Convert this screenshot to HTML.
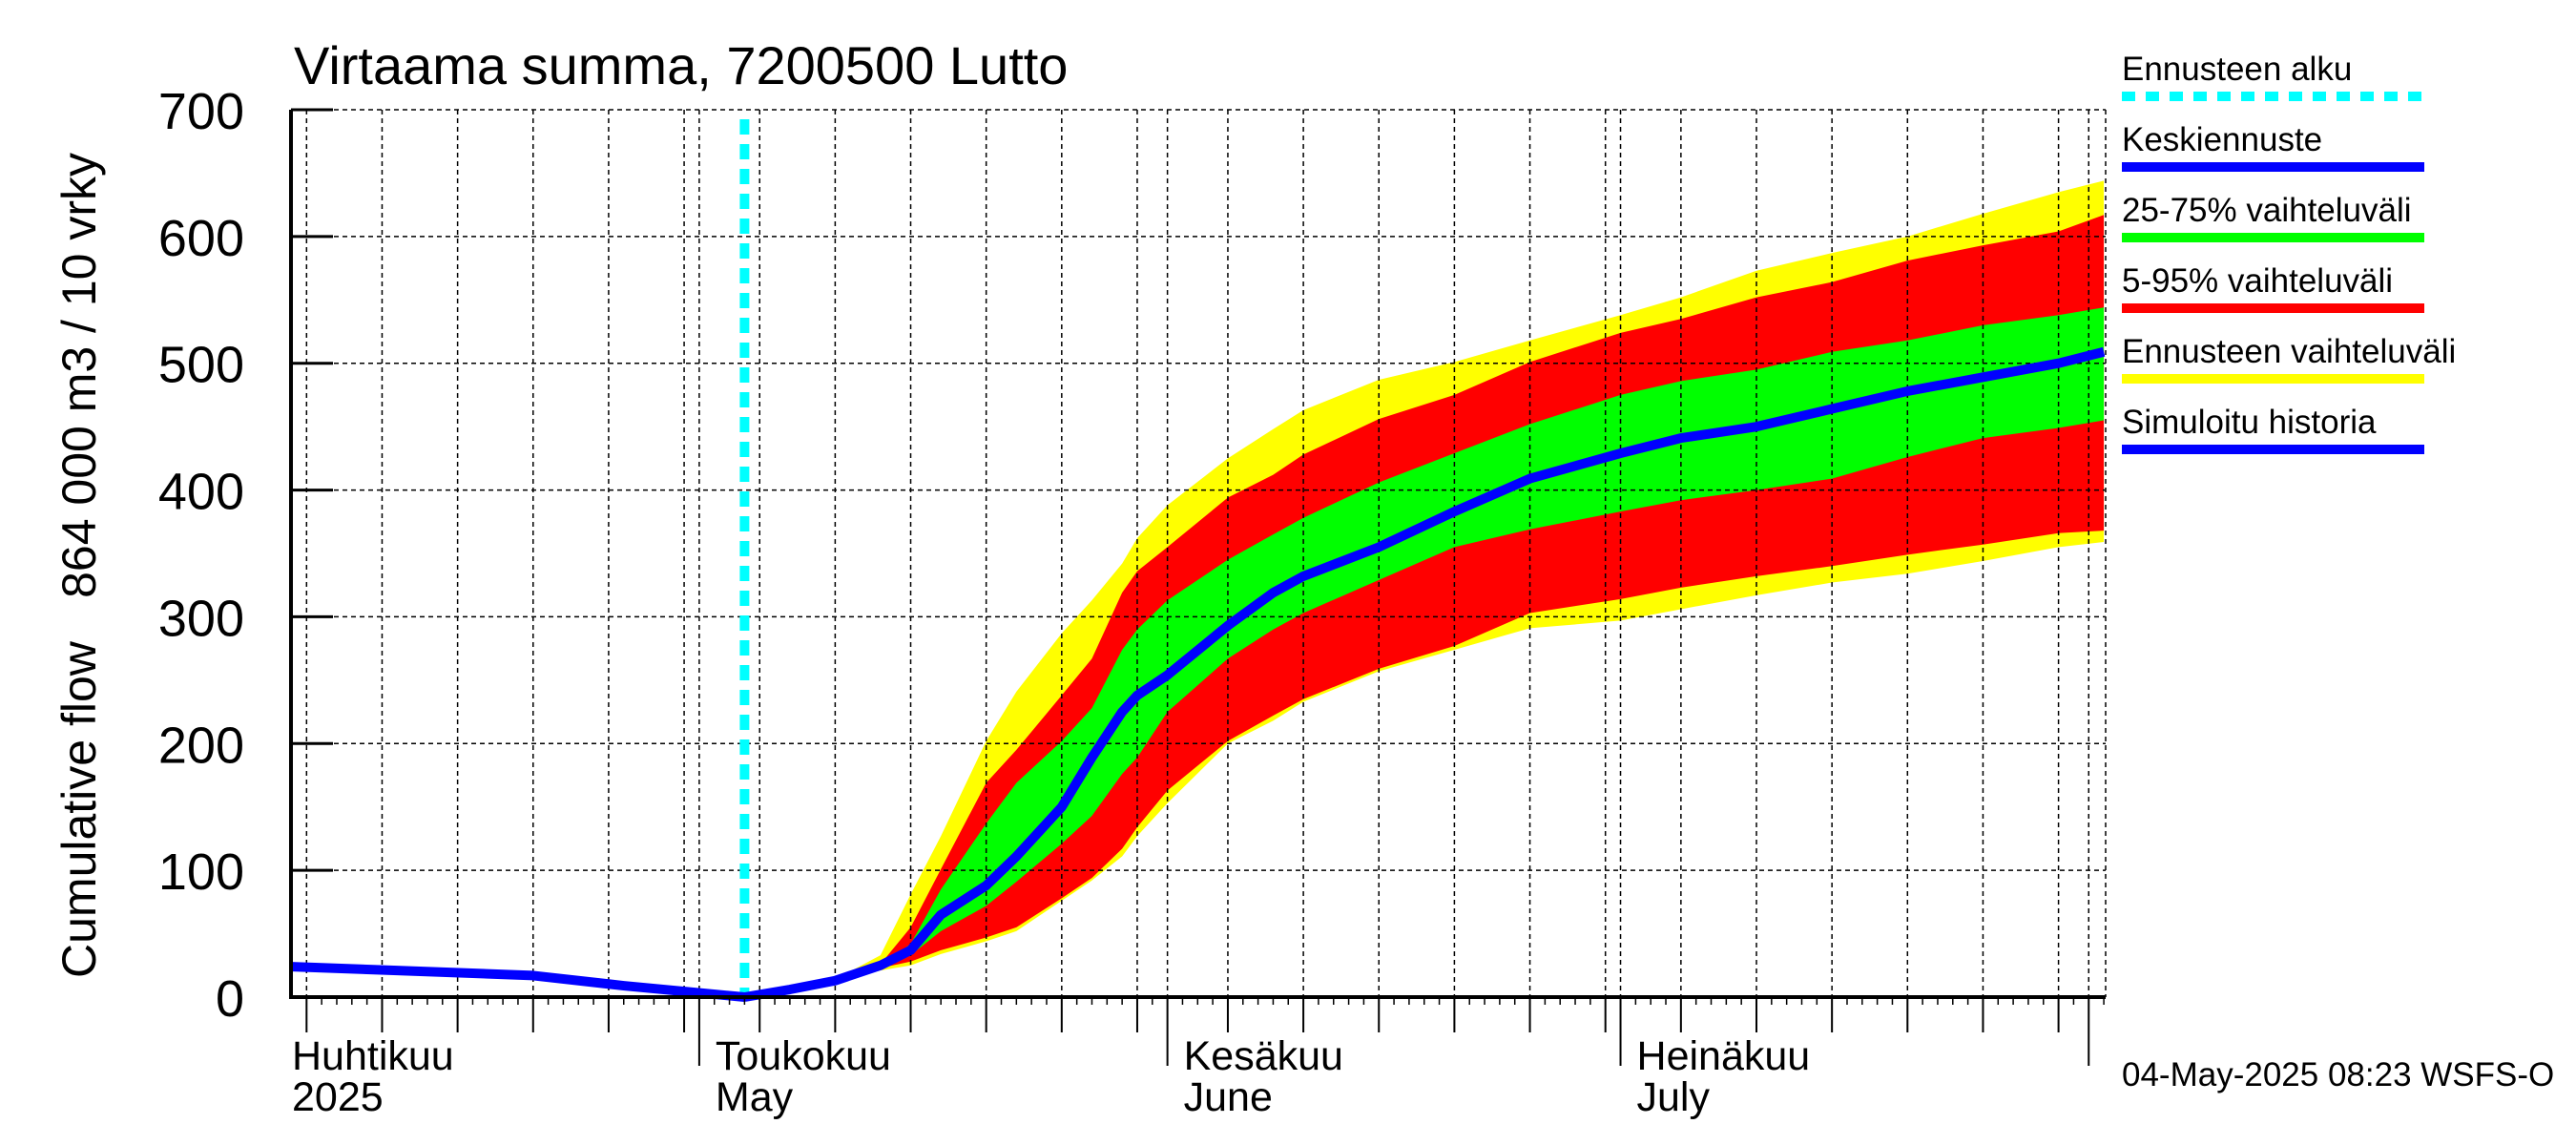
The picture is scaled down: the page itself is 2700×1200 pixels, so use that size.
<!DOCTYPE html>
<html><head><meta charset="utf-8"><style>
body{margin:0;background:#fff}
svg{display:block;font-family:"Liberation Sans",sans-serif}
</style></head><body>
<svg id="chart" width="2700" height="1200" viewBox="0 0 2700 1200" xmlns="http://www.w3.org/2000/svg">
<rect width="2700" height="1200" fill="#fff"/>
<g id="bands"></g>
<g id="grid"></g>
<g id="lines"></g>
<g id="axes"></g>
<text x="308" y="88" font-size="56">Virtaama summa, 7200500 Lutto</text>
<text transform="translate(100,1025) rotate(-90)" text-anchor="start" font-size="50">Cumulative flow</text>
<text transform="translate(100,160) rotate(-90)" text-anchor="end" font-size="50">864 000 m3 / 10 vrky</text>
<text x="2224" y="1138" font-size="35">04-May-2025 08:23 WSFS-O</text>
<g id="legend"></g>
</svg>
<script>
// data: day index = days since 1 April 2025
const histDays = [3, 10, 19, 25, 33];
const histVals = [24, 21, 17, 9, 0];
const fDays = [33, 36, 39, 42, 44, 46, 49, 51, 54, 56, 58, 59, 61, 65, 68, 70, 75, 80, 85, 91, 95, 100, 105, 110, 115, 120, 123];
const fMed = [0, 6, 13, 25, 37, 65, 88, 111, 150, 189, 225, 238, 254, 293, 319, 332, 355, 383, 409, 429, 441, 450, 464, 478, 489, 500, 509];
const fMax = [0, 6, 14, 33, 81, 127, 202, 241, 287, 313, 342, 362, 388, 425, 448, 463, 487, 501, 518, 538, 552, 573, 587, 600, 618, 635, 644];
const fP95 = [0, 6, 13, 26, 55, 101, 169, 195, 238, 267, 319, 336, 355, 394, 412, 428, 456, 475, 501, 524, 535, 552, 564, 581, 593, 604, 617];
const fP75 = [0, 6, 13, 25, 42, 85, 137, 169, 202, 228, 274, 290, 313, 345, 365, 378, 406, 429, 452, 475, 486, 495, 509, 518, 530, 538, 544];
const fP25 = [0, 6, 13, 24, 33, 52, 72, 91, 121, 143, 176, 189, 225, 267, 290, 303, 329, 355, 369, 383, 392, 400, 409, 426, 441, 449, 455];
const fP5  = [0, 6, 13, 23, 28, 37, 47, 55, 78, 94, 117, 134, 163, 202, 222, 235, 259, 277, 303, 314, 323, 332, 340, 349, 357, 366, 368];
const fMin = [0, 6, 13, 21, 25, 34, 44, 52, 76, 92, 111, 127, 153, 200, 218, 233, 257, 274, 291, 297, 306, 317, 327, 334, 344, 355, 359];
const yTicks = [0, 100, 200, 300, 400, 500, 600, 700];
const monthStarts = [0, 30, 61, 91, 122];
const monthFi = ["Huhtikuu", "Toukokuu", "Kesäkuu", "Heinäkuu"];
const monthEn = ["2025", "May", "June", "July"];
const forecastStartDay = 33;

const NS = "http://www.w3.org/2000/svg";
const L = 305, R = 2207, T = 115, B = 1045;
const x = d => 258 + d * 15.83;
const y = v => B - v * (B - T) / 700;
function mk(tag, attrs, parent) {
  const e = document.createElementNS(NS, tag);
  for (const k in attrs) e.setAttribute(k, attrs[k]);
  parent.appendChild(e); return e;
}
const bands = document.getElementById('bands');
function band(lo, hi, color, name) {
  let p = fDays.map((d, i) => x(d) + ',' + y(hi[i]));
  p = p.concat(fDays.slice().reverse().map((d, j) => x(d) + ',' + y(lo[fDays.length - 1 - j])));
  const e = mk('polygon', {points: p.join(' '), fill: color}, bands);
  
  
}
band(fMin, fMax, '#ffff00', 'band-min-max');
band(fP5, fP95, '#ff0000', 'band-5-95');
band(fP25, fP75, '#00ff00', 'band-25-75');

function dayOfMonth(d) {
  let day = d + 1;
  for (let k = 0; k < 4; k++) if (d >= monthStarts[k]) day = d - monthStarts[k] + 1;
  return day;
}
const grid = document.getElementById('grid');
for (let d = 4; d <= 123; d++) {
  if (dayOfMonth(d) % 5 === 0 || monthStarts.includes(d)) {
    const e = mk('line', {x1: x(d), x2: x(d), y1: T, y2: B, stroke: '#000', 'stroke-width': 1.5, 'stroke-dasharray': '5,4'}, grid);
    
    
  }
}
yTicks.forEach(v => {
  const e = mk('line', {x1: L, x2: R, y1: y(v), y2: y(v), stroke: '#000', 'stroke-width': 1.5, 'stroke-dasharray': '5,4'}, grid);
  
  
});
const rb = mk('line', {x1: R, x2: R, y1: T, y2: B, stroke: '#000', 'stroke-width': 1.5, 'stroke-dasharray': '5,4'}, grid);



const lines = document.getElementById('lines');
const cy = mk('line', {x1: x(forecastStartDay), x2: x(forecastStartDay), y1: 125, y2: B, stroke: '#00ffff', 'stroke-width': 10, 'stroke-dasharray': '16,10'}, lines);


const hp = mk('polyline', {points: histDays.map((d, i) => x(Math.max(d, 3.03)) + ',' + y(histVals[i])).join(' '), fill: 'none', stroke: '#0000ff', 'stroke-width': 10, 'stroke-linejoin': 'round'}, lines);


const mp = mk('polyline', {points: fDays.map((d, i) => x(d) + ',' + y(fMed[i])).join(' '), fill: 'none', stroke: '#0000ff', 'stroke-width': 10, 'stroke-linejoin': 'round'}, lines);



const axes = document.getElementById('axes');
const ax1 = mk('line', {x1: L, x2: L, y1: T, y2: B + 2, stroke: '#000', 'stroke-width': 4}, axes);


const ax2 = mk('line', {x1: L - 2, x2: R, y1: B, y2: B, stroke: '#000', 'stroke-width': 4}, axes);


yTicks.forEach(v => {
  const t = mk('line', {x1: L, x2: L + 44, y1: y(v), y2: y(v), stroke: '#000', 'stroke-width': 3}, axes);
  
  
  const tx = mk('text', {x: 256, y: y(v) + 20, 'text-anchor': 'end', 'font-size': 54}, axes);
  
  
  tx.textContent = v;
});
for (let d = 4; d <= 123; d++) {
  let len = 8;
  if (dayOfMonth(d) % 5 === 0) len = 37;
  if (monthStarts.includes(d)) len = 72;
  const t = mk('line', {x1: x(d), x2: x(d), y1: B, y2: B + len, stroke: '#000', 'stroke-width': len > 8 ? 2 : 1.5}, axes);
  
  
}
monthFi.forEach((m, i) => {
  const lx = i === 0 ? 306 : x(monthStarts[i]) + 17;
  const a = mk('text', {x: lx, y: 1121, 'font-size': 43}, axes);
  
  
  a.textContent = m;
  const b = mk('text', {x: lx, y: 1164, 'font-size': 43}, axes);
  
  
  b.textContent = monthEn[i];
});

const legend = document.getElementById('legend');
const legItems = [["Ennusteen alku", "#00ffff", true], ["Keskiennuste", "#0000ff", false], ["25-75% vaihteluväli", "#00ff00", false], ["5-95% vaihteluväli", "#ff0000", false], ["Ennusteen vaihteluväli", "#ffff00", false], ["Simuloitu historia", "#0000ff", false]];
legItems.forEach((it, i) => {
  const by = 84 + i * 74;
  const t = mk('text', {x: 2224, y: by, 'font-size': 35}, legend);
  
  
  t.textContent = it[0];
  const attrs = {x1: 2224, x2: 2541, y1: by + 17, y2: by + 17, stroke: it[1], 'stroke-width': 10};
  if (it[2]) attrs['stroke-dasharray'] = '14,11';
  const l = mk('line', attrs, legend);
  
  
});
</script>
</body></html>
